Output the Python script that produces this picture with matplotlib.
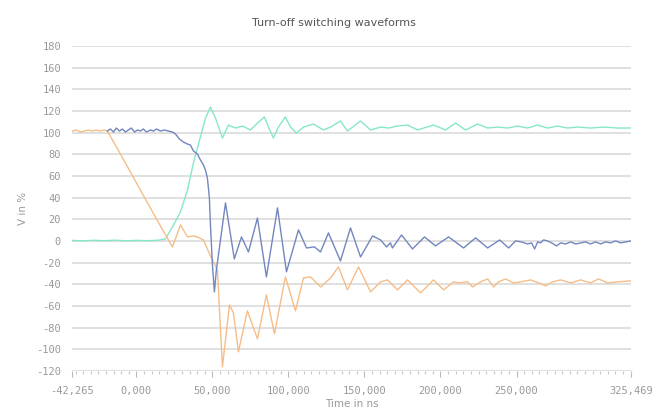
import matplotlib
matplotlib.use("Agg")
import matplotlib.pyplot as plt
from matplotlib.ticker import FixedLocator, MultipleLocator

title = "Turn-off switching waveforms"
x_label = "Time in ns"
y_label = "V in %"
x_min, x_max = -42265, 325469
x_ticks = [-42265, 0, 50000, 100000, 150000, 200000, 250000, 325469]
x_tick_labels = ["-42,265", "0,000", "50,000", "100,000", "150,000", "200,000", "250,000", "325,469"]
y_ticks = list(range(-120, 181, 20))

# Blue series (time in ns, value in %)
blue_t = [-19100, -17100, -15100, -13200, -11200, -9200, -7200, -5300, -3300, -1300,
          700, 2600, 4600, 6600, 9200, 11200, 13200, 15800, 18400, 21100,
          23700, 25700, 28300, 30900, 33600, 35500, 37500, 40100, 42100, 44100,
          45400, 46700, 48000, 48700, 50000, 51300, 52600, 58600, 64400, 69100,
          73700, 79600, 85500, 92800, 98700, 106600, 111900, 117100, 121100, 126300,
          134200, 140800, 147400, 155300, 160600, 164500, 167100, 168400, 174400, 181600,
          189500, 196700, 205300, 215200, 223100, 231000, 238900, 244800, 249400, 253300,
          257300, 259900, 261900, 263900, 265800, 267800, 270400, 273100, 276400, 279000,
          282300, 285600, 288900, 292200, 295400, 298700, 302000, 305300, 308600, 311900,
          315200, 318500, 321800, 325469]
blue_v = [101.5, 103.4, 100.6, 104.3, 101.5, 103.4, 100.6, 102.5, 104.3, 100.6,
          102.5, 101.5, 103.4, 100.6, 102.5, 101.5, 103.4, 101.5, 102.5, 101.5,
          100.6, 98.8, 94.1, 91.4, 89.5, 88.6, 83.1, 80.3, 74.8, 70.2,
          65.5, 58.1, 39.7, 14.8, -22.2, -47.1, -26.8, 35.1, -16.6, 3.7,
          -10.2, 21.2, -33.2, 30.5, -28.6, 10.2, -6.5, -5.5, -10.2, 7.4,
          -18.5, 12.0, -14.8, 4.6, 0.9, -5.5, -1.8, -6.5, 5.5, -7.4,
          3.7, -4.6, 3.7, -6.5, 2.8, -6.5, 0.9, -6.5, -0.0, -0.9,
          -2.8, -1.8, -7.4, -0.9, -1.8, 0.9, -0.0, -1.8, -4.6, -1.8,
          -2.8, -0.9, -2.8, -1.8, -0.9, -2.8, -0.9, -2.8, -0.9, -1.8,
          -0.0, -1.8, -0.9, -0.0]

# Orange series
orange_t = [-42265, -39500, -36800, -34200, -31600, -29000, -26300, -23700, -21100, -19100,
            -10500, 2600, 15800, 23700, 29000, 33600, 37500, 40100, 44100, 48700,
            53300, 55300, 56600, 61200, 63800, 67100, 73000, 79600, 85500, 90800,
            98000, 104600, 109900, 114500, 121100, 127700, 132900, 138800, 146100, 154000,
            160600, 165200, 171700, 178300, 186900, 195400, 202000, 208600, 211900, 217800,
            221100, 226400, 231000, 234900, 238200, 242800, 248100, 252700, 259300, 264500,
            269100, 273700, 279000, 285600, 292200, 298700, 304000, 309900, 316500, 325469]
orange_v = [101.5, 102.5, 100.6, 101.5, 102.5, 101.5, 102.5, 101.5, 102.5, 101.5,
            80.3, 47.1, 13.8, -5.5, 14.8, 3.7, 4.6, 3.7, 0.9, -13.8,
            -26.8, -82.1, -116.3, -59.1, -66.5, -102.5, -64.6, -90.5, -49.8, -85.8,
            -33.2, -64.6, -34.2, -33.2, -42.5, -34.2, -24.0, -45.2, -24.0, -47.1,
            -37.8, -36.0, -45.2, -36.0, -48.0, -36.0, -45.2, -37.8, -38.8, -37.8,
            -42.5, -37.8, -35.1, -42.5, -37.8, -35.1, -38.8, -37.8, -36.0, -38.8,
            -41.5, -37.8, -36.0, -38.8, -36.0, -38.8, -35.1, -38.8, -37.8, -36.9]

# Teal series
teal_t = [-42265, -35000, -28000, -21000, -14000, -7000, 0, 7000, 14000, 19100,
          23700, 29000, 33600, 37500, 42100, 45400, 48700, 52000, 56600, 60500,
          65100, 69700, 75000, 79600, 84200, 86900, 90100, 93400, 98000, 101300,
          105300, 109900, 116500, 123000, 127700, 134200, 138800, 147400, 154000, 160600,
          165800, 171700, 178300, 184900, 195400, 203300, 209900, 216500, 224400, 231000,
          237500, 244100, 250700, 257300, 263900, 270400, 277000, 283600, 290200, 298700,
          307300, 316500, 325469]
teal_v = [0.5, 0.0, 0.6, 0.2, 0.7, 0.1, 0.5, 0.2, 0.6, 1.8,
          12.9, 26.8, 47.1, 72.0, 96.0, 113.5, 123.7, 113.5, 95.1, 107.1,
          104.3, 106.1, 102.5, 108.9, 114.5, 105.2, 95.1, 105.2, 114.5, 105.2,
          99.7, 105.2, 108.0, 102.5, 105.2, 110.8, 101.5, 110.8, 102.5, 105.2,
          104.3, 106.1, 107.1, 102.5, 107.1, 102.5, 108.9, 102.5, 108.0, 104.3,
          105.2, 104.3, 106.1, 104.3, 107.1, 104.3, 106.1, 104.3, 105.2, 104.3,
          105.2, 104.3, 104.3]

fig = plt.figure(figsize=(6.68, 4.19), dpi=100)
ax = fig.add_axes([0.108, 0.115, 0.837, 0.775])

ax.plot(teal_t, teal_v, color="#86e6cc", lw=1.0, zorder=3)
ax.plot(orange_t, orange_v, color="#f5bd88", lw=1.0, zorder=3)
ax.plot(blue_t, blue_v, color="#7386bd", lw=1.0, zorder=4)

ax.set_xlim(x_min, x_max)
ax.set_ylim(-120, 180)
ax.set_yticks(y_ticks)
ax.set_yticklabels([str(v) for v in y_ticks])
ax.xaxis.set_major_locator(FixedLocator(x_ticks))
ax.set_xticklabels(x_tick_labels)
ax.xaxis.set_minor_locator(MultipleLocator(5000))

for s in ax.spines.values():
    s.set_visible(False)
ax.grid(axis="y", color="#e0e0e0", lw=1.4, zorder=0)
ax.set_axisbelow(True)

mono = "DejaVu Sans Mono"
ax.tick_params(axis="y", length=0, pad=8, labelsize=7.5, labelcolor="#999999")
ax.tick_params(axis="x", which="major", length=4, width=0.8, color="#bbbbbb", direction="out",
               pad=7, labelsize=7.5, labelcolor="#999999")
ax.tick_params(axis="x", which="minor", length=2.5, width=0.8, color="#c8c8c8", direction="out")
for lbl in ax.get_xticklabels() + ax.get_yticklabels():
    lbl.set_family(mono)

ax.set_xlabel(x_label, fontsize=7.5, color="#999999", labelpad=2)
ax.set_ylabel(y_label, fontsize=7.5, color="#999999", labelpad=6)
fig.text(0.5, 0.945, title, ha="center", va="center", fontsize=8, color="#555555")

fig.savefig("out.png", dpi=100)
